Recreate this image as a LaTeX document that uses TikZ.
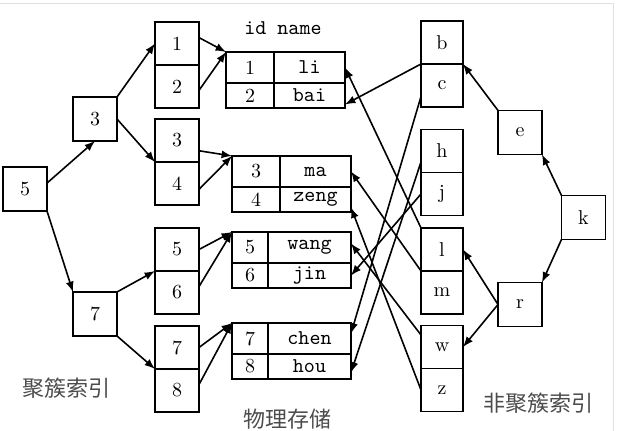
\documentclass[tikz,border=0pt]{standalone}
\usepackage{fontspec}
\newfontfamily\cjk{Noto Sans CJK SC}
\usetikzlibrary{positioning}

\begin{document}
\begin{tikzpicture}[x=0.5pt, y=-0.5pt, node distance=21.5pt, thick, >=latex,
    main/.style = {draw, minimum width=22pt, minimum height=22pt, inner sep=0pt, outer sep=0pt},
    leaf/.style = {draw, minimum width=21.5pt, minimum height=21.5pt, inner sep=0pt, outer sep=0pt},
    idcell/.style = {draw, minimum height=15.5pt, inner sep=0pt, outer sep=0pt},
    namecell/.style = {draw, minimum height=15.5pt, inner sep=0pt, outer sep=0pt, font=\fontsize{10.5pt}{12pt}\selectfont\ttfamily},
    title/.style = {font=\cjk\fontsize{11pt}{13pt}\selectfont, text=black!70}]
    \useasboundingbox (0,0) rectangle (621,431);
    \draw[black!12, thin] (0,3) -- (613,3) -- (613,431);
    % clustered index
    \node[main] (r5) at (25,189) {5};
    \node[main] (c3) at (95,119) {3};
    \node[main] (c7) at (95,314) {7};
    \node[leaf, minimum width=22pt] (l1) at (177,43.5) {1};
    \node[leaf, minimum width=22pt] (l2) [below of=l1] {2};
    \node[leaf, minimum width=22pt] (l3) at (177,140.5) {3};
    \node[leaf, minimum width=22pt] (l4) [below of=l3] {4};
    \node[leaf, minimum width=22pt] (l5) at (177,249.5) {5};
    \node[leaf, minimum width=22pt] (l6) [below of=l5] {6};
    \node[leaf, minimum width=22pt] (l7) at (177,347.5) {7};
    \node[leaf, minimum width=22pt] (l8) [below of=l7] {8};
    % storage
    \node (hdr) at (283,28) {\fontsize{10.5pt}{12pt}\selectfont\ttfamily id name};
    \node[idcell, minimum width=24pt, anchor=north west] (d1) at (226,52) {1};
    \node[namecell, minimum width=35.5pt, right=0pt of d1] (n1) {li};
    \node[idcell, minimum width=24pt, minimum height=12.5pt, below=0pt of d1] (d2) {2};
    \node[namecell, minimum width=35.5pt, minimum height=12.5pt, right=0pt of d2] (n2) {bai};
    \node[idcell, minimum width=24pt, anchor=north west] (d3) at (232,156) {3};
    \node[namecell, minimum width=35.5pt, right=0pt of d3] (n3) {ma};
    \node[idcell, minimum width=24pt, minimum height=12.5pt, below=0pt of d3] (d4) {4};
    \node[namecell, minimum width=35.5pt, minimum height=12.5pt, right=0pt of d4] (n4) {zeng};
    \node[idcell, minimum width=18pt, anchor=north west] (d5) at (232,232) {5};
    \node[namecell, minimum width=41.5pt, right=0pt of d5] (n5) {wang};
    \node[idcell, minimum width=18pt, minimum height=12.5pt, below=0pt of d5] (d6) {6};
    \node[namecell, minimum width=41.5pt, minimum height=12.5pt, right=0pt of d6] (n6) {jin};
    \node[idcell, minimum width=18pt, anchor=north west] (d7) at (232,323) {7};
    \node[namecell, minimum width=41.5pt, right=0pt of d7] (n7) {chen};
    \node[idcell, minimum width=18pt, minimum height=12.5pt, below=0pt of d7] (d8) {8};
    \node[namecell, minimum width=41.5pt, minimum height=12.5pt, right=0pt of d8] (n8) {hou};
    % non-clustered index
    \node[leaf, minimum width=21pt] (rb) at (442,42.5) {b};
    \node[leaf, minimum width=21pt] (rc) [below of=rb] {c};
    \node[leaf, minimum width=21pt] (rh) at (442,151) {h};
    \node[leaf, minimum width=21pt] (rj) [below of=rh] {j};
    \node[leaf, minimum width=21pt] (rl) at (442,249.5) {l};
    \node[leaf, minimum width=21pt] (rm) [below of=rl] {m};
    \node[leaf, minimum width=21pt] (rw) at (442,347) {w};
    \node[leaf, minimum width=21pt] (rz) [below of=rw] {z};
    \node[main] (ne) at (520,132.5) {e};
    \node[main] (nk) at (583.5,217.5) {k};
    \node[main] (nr) at (520,304.5) {r};
    \node[title] (lbl1) at (66,388) {聚簇索引};
    \node[title] (lbl2) at (538,403) {非聚簇索引};
    \node[title] (lbl3) at (287,419) {物理存储};
    % tree arrows
    \draw[->] (r5.15) -- (c3.south);
    \draw[->] (r5.south east) -- (c7.north west);
    \draw[->] (c3.north east) -- (l1.west);
    \draw[->] (c3.east) -- (l3.south west);
    \draw[->] (c7.north east) -- (l5.south west);
    \draw[->] (c7.south east) -- (l7.south west);
    \draw[->] (l1.15) -- (d1.north west);
    \draw[->] (l2.-10) -- (d1.north west);
    \draw[->] (l3.-25) -- (d3.north west);
    \draw[->] (l4.-15) -- (d3.north west);
    \draw[->] (l5.east) -- (d5.north west);
    \draw[->] (l6.15) -- (d5.north west);
    \draw[->] (l7.east) -- (d7.north west);
    \draw[->] (l8.15) -- (d7.north west);
    \draw[->] (nk.north west) -- (ne.south east);
    \draw[->] (ne.north west) -- (rb.south east);
    \draw[->] (nk.south west) -- (nr.north east);
    \draw[->] (nr.west) -- (rl.east);
    \draw[->] (nr.west) -- (rw.east);
    % index to rows
    \draw[->] (rl.north west) -- (n1.east);
    \draw[->] (rb.south west) -- ([yshift=-4.5pt]n2.east);
    \draw[->] (rm.north west) -- (n3.east);
    \draw[->] (rz.west) -- ([yshift=-4pt]n4.east);
    \draw[->] ([yshift=6pt]rw.west) -- ([yshift=2pt]n5.east);
    \draw[->] (rj.west) -- (n6.east);
    \draw[->] ([yshift=-5.5pt]rc.west) -- ([yshift=2.5pt]n7.east);
    \draw[->] ([yshift=-5.5pt]rh.west) -- ([yshift=-3pt]n8.east);
\end{tikzpicture}
\end{document}
